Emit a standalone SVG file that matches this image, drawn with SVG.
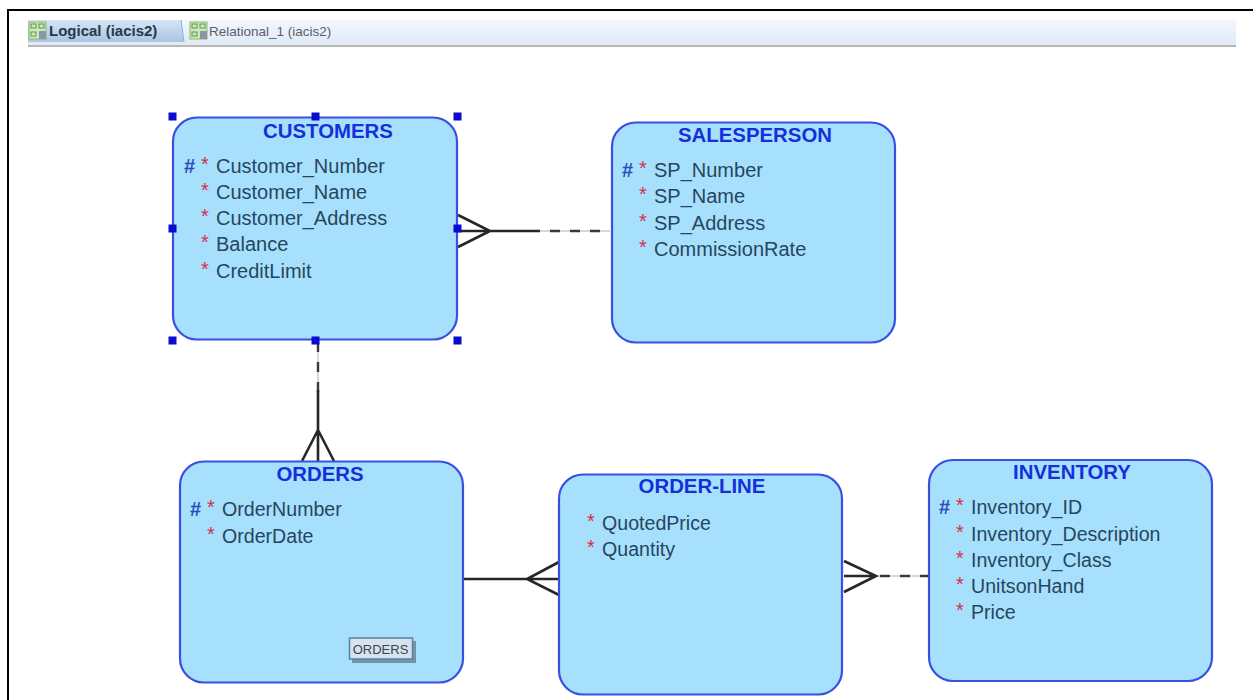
<svg xmlns="http://www.w3.org/2000/svg" width="1253" height="700" viewBox="0 0 1253 700">
<defs>
<linearGradient id="tabbar" x1="0" y1="0" x2="0" y2="1"><stop offset="0" stop-color="#f2f7fc"/><stop offset="1" stop-color="#dfeaf5"/></linearGradient>
<linearGradient id="tab" x1="0" y1="0" x2="0" y2="1"><stop offset="0" stop-color="#d6e5f5"/><stop offset="1" stop-color="#a9c4e2"/></linearGradient>
<g id="tabicon"><rect x="0" y="0" width="17" height="17" fill="#d4e6bc" stroke="#8fb56f" stroke-width="1"/><rect x="2" y="2" width="5" height="4" fill="none" stroke="#4aa04a"/><rect x="10" y="2" width="5" height="4" fill="none" stroke="#4aa04a"/><rect x="2" y="10" width="5" height="4" fill="none" stroke="#4aa04a"/><rect x="10" y="9" width="7" height="8" fill="#8a96a8"/></g>
</defs>
<style>
text{font-family:"Liberation Sans",Arial,sans-serif}
.box{fill:#a6e0fd;stroke:#3a4fe0;stroke-width:2.2}
.title{font-size:20.4px;font-weight:700;fill:#1530d8;text-anchor:middle}
.attr{font-size:20px;fill:#26465e}
.attr2{font-size:19.6px;fill:#26465e}
.star{font-size:20px;fill:#d5304a}
.hash{font-size:20px;fill:#2a50b8;font-weight:700}
.h{fill:#0a0ad0}
.solid{stroke:#262626;stroke-width:2.6;fill:none}
.dash{stroke:#3a3a3a;stroke-width:2.4;fill:none;stroke-dasharray:10 10}
.gap{stroke:#d8d8d8;stroke-width:2;fill:none}
</style>
<rect width="1253" height="700" fill="#ffffff"/>
<path d="M8 700V10H1253" fill="none" stroke="#000" stroke-width="2"/>
<g id="tabs">
<rect x="28" y="20" width="1208" height="25" fill="url(#tabbar)"/>
<path d="M28 20H181L184 42H28Z" fill="url(#tab)"/>
<path d="M181 20L184 42" stroke="#8fb0d0"/>
<path d="M28 46H1236" stroke="#b8b8b8" stroke-width="2"/>
<use href="#tabicon" x="29" y="22"/>
<text x="49" y="36" font-size="15" font-weight="700" fill="#26384a">Logical (iacis2)</text>
<use href="#tabicon" x="190" y="22"/>
<text x="209" y="36" font-size="13.500" fill="#5a6068">Relational_1 (iacis2)</text>
</g>
<g id="connectors">
<path class="gap" d="M540 231H610"/>
<path class="solid" d="M458 231H540M458 215L490 231L458 247"/>
<path class="dash" d="M550 231H610"/>
<path class="gap" d="M318 340V392"/>
<path class="dash" d="M318 342V392"/>
<path class="solid" d="M318 390V461M302 461L318 430L334 461"/>
<path class="solid" d="M464 579H559M559 562L527 579L559 595"/>
<path class="gap" d="M876 576H929"/>
<path class="solid" d="M844 576H876M844 561L876 576L844 592"/>
<path class="dash" d="M880 576H929" stroke-dasharray="9 7"/>
</g>
<g id="customers">
<rect class="box" x="173" y="117.500" width="284" height="222" rx="24"/>
<text class="title" x="328" y="137.500">CUSTOMERS</text>
<text class="hash" x="184" y="173">#</text><text class="star" x="201" y="171">*</text><text class="attr" x="216" y="173">Customer_Number</text>
<text class="star" x="201" y="197">*</text><text class="attr" x="216" y="199">Customer_Name</text>
<text class="star" x="201" y="223">*</text><text class="attr" x="216" y="225">Customer_Address</text>
<text class="star" x="201" y="249">*</text><text class="attr" x="216" y="251">Balance</text>
<text class="star" x="201" y="276">*</text><text class="attr" x="216" y="278">CreditLimit</text>
<rect class="h" x="168.500" y="112.500" width="8" height="8"/><rect class="h" x="311.500" y="112.500" width="8" height="8"/><rect class="h" x="453.500" y="112.500" width="8" height="8"/>
<rect class="h" x="168.500" y="224.500" width="8" height="8"/><rect class="h" x="453.500" y="224.500" width="8" height="8"/>
<rect class="h" x="168.500" y="336.500" width="8" height="8"/><rect class="h" x="311.500" y="336.500" width="8" height="8"/><rect class="h" x="453.500" y="336.500" width="8" height="8"/>
</g>
<g id="salesperson">
<rect class="box" x="612" y="122.500" width="283" height="220" rx="24"/>
<text class="title" x="755" y="142">SALESPERSON</text>
<text class="hash" x="622" y="177">#</text><text class="star" x="639" y="175">*</text><text class="attr" x="654" y="177">SP_Number</text>
<text class="star" x="639" y="201">*</text><text class="attr" x="654" y="203">SP_Name</text>
<text class="star" x="639" y="228">*</text><text class="attr" x="654" y="230">SP_Address</text>
<text class="star" x="639" y="254">*</text><text class="attr" x="654" y="256">CommissionRate</text>
</g>
<g id="orders">
<rect class="box" x="180" y="461.500" width="283" height="221" rx="24"/>
<text class="title" x="320" y="481">ORDERS</text>
<text class="hash" x="190" y="516">#</text><text class="star" x="207" y="514">*</text><text class="attr2" x="222" y="516">OrderNumber</text>
<text class="star" x="207" y="541">*</text><text class="attr2" x="222" y="543">OrderDate</text>
</g>
<g id="orders-tooltip">
<rect x="352" y="641" width="64" height="22" fill="#52626f" opacity="0.6"/>
<rect x="349.500" y="638" width="63" height="21" fill="#d6e2ee" stroke="#5b7fa5" stroke-width="1.500"/>
<text x="380.500" y="654" font-size="13" fill="#3c4450" text-anchor="middle">ORDERS</text>
</g>
<g id="order-line">
<rect class="box" x="559" y="474.500" width="283" height="220" rx="24"/>
<text class="title" x="702" y="493">ORDER-LINE</text>
<text class="star" x="587" y="528">*</text><text class="attr2" x="602" y="530">QuotedPrice</text>
<text class="star" x="587" y="554">*</text><text class="attr2" x="602" y="556">Quantity</text>
</g>
<g id="inventory">
<rect class="box" x="929" y="460" width="283" height="221" rx="24"/>
<text class="title" x="1072" y="479">INVENTORY</text>
<text class="hash" x="939" y="514">#</text><text class="star" x="956" y="512">*</text><text class="attr2" x="971" y="514">Inventory_ID</text>
<text class="star" x="956" y="539">*</text><text class="attr2" x="971" y="541">Inventory_Description</text>
<text class="star" x="956" y="565">*</text><text class="attr2" x="971" y="567">Inventory_Class</text>
<text class="star" x="956" y="591">*</text><text class="attr2" x="971" y="593">UnitsonHand</text>
<text class="star" x="956" y="617">*</text><text class="attr2" x="971" y="619">Price</text>
</g>
</svg>
